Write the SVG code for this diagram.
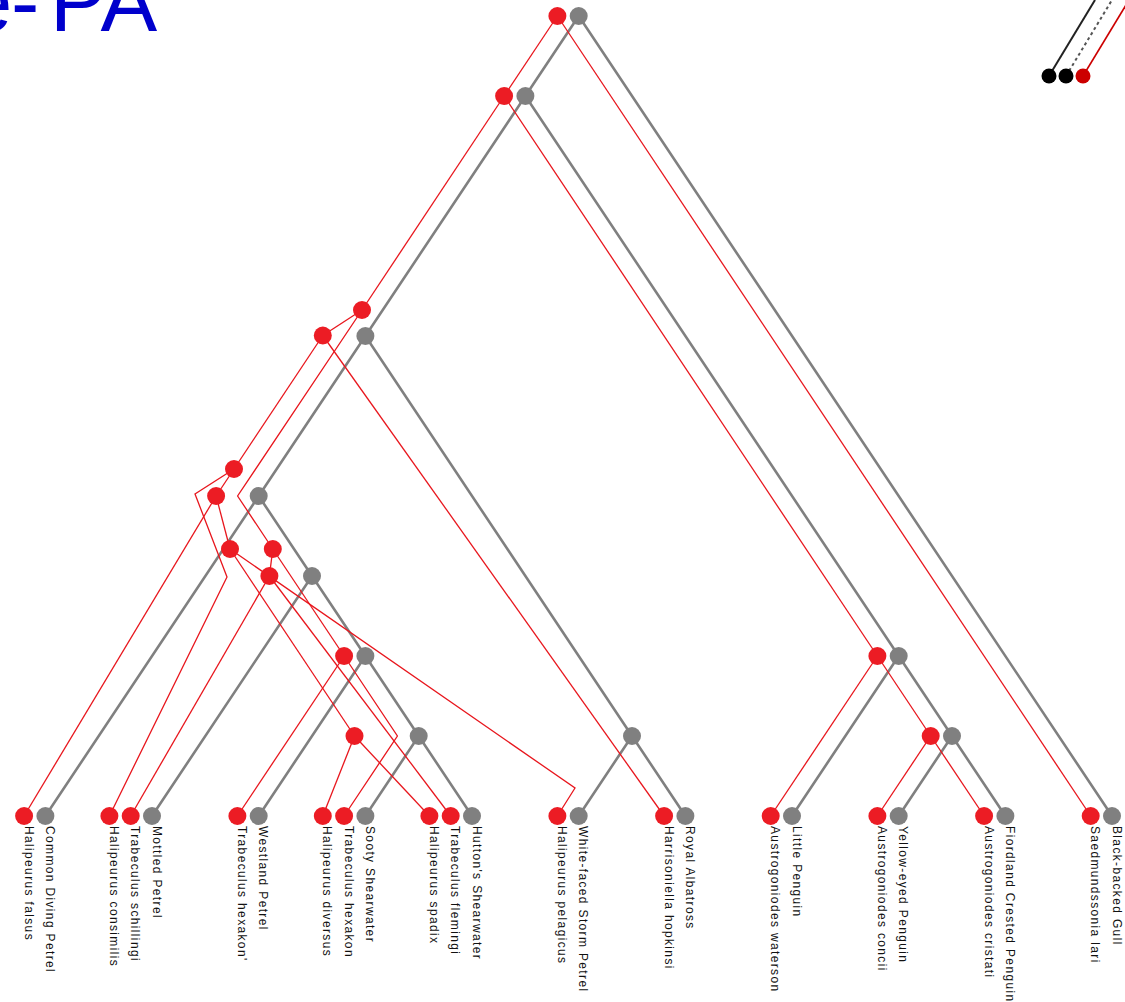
<svg xmlns="http://www.w3.org/2000/svg" width="1125" height="1002" viewBox="0 0 1125 1002">
  <style>
    .h { stroke: #808080; stroke-width: 2.6; fill: none; stroke-linecap: round; }
    .p { stroke: #e8161d; stroke-width: 1.3; fill: none; stroke-linejoin: miter; }
    .hn { fill: #808080; }
    .pn { fill: #ec1c24; }
    .lbl { font-family: "Liberation Sans", Arial, sans-serif; font-size: 12px; letter-spacing: 1.35px; fill: #111; }
    .title { font-family: "Liberation Sans", Arial, sans-serif; font-size: 85px; fill: #0000cc; }
  </style>

  <rect x="0" y="0" width="1125" height="1002" fill="#ffffff"/>

  <!-- title, running off the top and left edges -->
  <text class="title" y="31"><tspan x="-35">e</tspan><tspan x="11">-</tspan><tspan x="50">PA</tspan></text>

  <!-- legend: host edge, loss edge, parasite edge -->
  <g id="legend">
    <line x1="1049" y1="76" x2="1095" y2="0" stroke="#222" stroke-width="2"/>
    <line x1="1066" y1="76" x2="1112" y2="0" stroke="#555" stroke-width="2" stroke-dasharray="3,3"/>
    <line x1="1083" y1="76" x2="1129" y2="0" stroke="#cc0000" stroke-width="1.6"/>
    <circle cx="1049" cy="76" r="7.5" fill="#000"/>
    <circle cx="1066" cy="76" r="7.5" fill="#000"/>
    <circle cx="1083" cy="76" r="7.5" fill="#cc0000"/>
  </g>

  <g id="connectors">
    <!-- host tree -->
    <g id="host-edges">
      <line class="h" x1="578.7" y1="16" x2="525.4" y2="96"/>
      <line class="h" x1="578.7" y1="16" x2="1112" y2="816"/>
      <line class="h" x1="525.4" y1="96" x2="365.4" y2="336"/>
      <line class="h" x1="525.4" y1="96" x2="898.7" y2="656"/>
      <line class="h" x1="365.4" y1="336" x2="258.7" y2="496"/>
      <line class="h" x1="365.4" y1="336" x2="632" y2="736"/>
      <line class="h" x1="258.7" y1="496" x2="45.4" y2="816"/>
      <line class="h" x1="258.7" y1="496" x2="312" y2="576"/>
      <line class="h" x1="312" y1="576" x2="152" y2="816"/>
      <line class="h" x1="312" y1="576" x2="365.4" y2="656"/>
      <line class="h" x1="365.4" y1="656" x2="258.7" y2="816"/>
      <line class="h" x1="365.4" y1="656" x2="418.7" y2="736"/>
      <line class="h" x1="418.7" y1="736" x2="365.4" y2="816"/>
      <line class="h" x1="418.7" y1="736" x2="472" y2="816"/>
      <line class="h" x1="632" y1="736" x2="578.7" y2="816"/>
      <line class="h" x1="632" y1="736" x2="685.4" y2="816"/>
      <line class="h" x1="898.7" y1="656" x2="792" y2="816"/>
      <line class="h" x1="898.7" y1="656" x2="952" y2="736"/>
      <line class="h" x1="952" y1="736" x2="898.7" y2="816"/>
      <line class="h" x1="952" y1="736" x2="1005.4" y2="816"/>
    </g>
    <!-- parasite tree -->
    <g id="parasite-edges">
      <line class="p" x1="557.4" y1="16" x2="504.1" y2="96"/>
      <line class="p" x1="557.4" y1="16" x2="1090.7" y2="816"/>
      <line class="p" x1="504.1" y1="96" x2="362" y2="310"/>
      <line class="p" x1="504.1" y1="96" x2="877.4" y2="656"/>
      <line class="p" x1="877.4" y1="656" x2="770.7" y2="816"/>
      <line class="p" x1="877.4" y1="656" x2="930.7" y2="736"/>
      <line class="p" x1="930.7" y1="736" x2="877.4" y2="816"/>
      <line class="p" x1="930.7" y1="736" x2="984.1" y2="816"/>
      <line class="p" x1="362" y1="310" x2="322.8" y2="335.5"/>
      <polyline class="p" points="362,310 237.6,496 272.8,549"/>
      <line class="p" x1="322.8" y1="335.5" x2="234" y2="469"/>
      <line class="p" x1="322.8" y1="335.5" x2="664.1" y2="816"/>
      <line class="p" x1="234" y1="469" x2="216.1" y2="496"/>
      <polyline class="p" points="234,469 195,494 227,577 109.4,816"/>
      <line class="p" x1="216.1" y1="496" x2="24.1" y2="816"/>
      <line class="p" x1="216.1" y1="496" x2="230" y2="549"/>
      <line class="p" x1="230" y1="549" x2="354.5" y2="736"/>
      <polyline class="p" points="230,549 575,788 557.4,816"/>
      <line class="p" x1="272.8" y1="549" x2="269.4" y2="576"/>
      <line class="p" x1="269.4" y1="576" x2="130.7" y2="816"/>
      <line class="p" x1="269.4" y1="576" x2="450.7" y2="816"/>
      <line class="p" x1="272.8" y1="549" x2="344.1" y2="656"/>
      <line class="p" x1="344.1" y1="656" x2="237.4" y2="816"/>
      <polyline class="p" points="344.1,656 397.4,736 344.1,816"/>
      <line class="p" x1="354.5" y1="736" x2="322.8" y2="816"/>
      <line class="p" x1="354.5" y1="736" x2="429.4" y2="816"/>
    </g>
  </g>

  <!-- host nodes -->
  <g id="host-nodes">
    <g id="h-root"><circle class="hn" cx="578.7" cy="16" r="9"/></g>
    <g id="h-1"><circle class="hn" cx="525.4" cy="96" r="9"/></g>
    <g id="h-2"><circle class="hn" cx="365.4" cy="336" r="9"/></g>
    <g id="h-3"><circle class="hn" cx="258.7" cy="496" r="9"/></g>
    <g id="h-4"><circle class="hn" cx="312" cy="576" r="9"/></g>
    <g id="h-5"><circle class="hn" cx="365.4" cy="656" r="9"/></g>
    <g id="h-6"><circle class="hn" cx="418.7" cy="736" r="9"/></g>
    <g id="h-7"><circle class="hn" cx="632" cy="736" r="9"/></g>
    <g id="h-8"><circle class="hn" cx="898.7" cy="656" r="9"/></g>
    <g id="h-9"><circle class="hn" cx="952" cy="736" r="9"/></g>

    <g id="h-common-diving-petrel"><circle class="hn" cx="45.4" cy="816" r="9"/><text class="lbl" transform="translate(46,826) rotate(90)">Common Diving Petrel</text></g>
    <g id="h-mottled-petrel"><circle class="hn" cx="152" cy="816" r="9"/><text class="lbl" transform="translate(152.6,826) rotate(90)">Mottled Petrel</text></g>
    <g id="h-westland-petrel"><circle class="hn" cx="258.7" cy="816" r="9"/><text class="lbl" transform="translate(259.3,826) rotate(90)">Westland Petrel</text></g>
    <g id="h-sooty-shearwater"><circle class="hn" cx="365.4" cy="816" r="9"/><text class="lbl" transform="translate(366,826) rotate(90)">Sooty Shearwater</text></g>
    <g id="h-huttons-shearwater"><circle class="hn" cx="472" cy="816" r="9"/><text class="lbl" transform="translate(472.6,826) rotate(90)">Hutton's Shearwater</text></g>
    <g id="h-white-faced-storm-petrel"><circle class="hn" cx="578.7" cy="816" r="9"/><text class="lbl" transform="translate(579.3,826) rotate(90)">White-faced Storm Petrel</text></g>
    <g id="h-royal-albatross"><circle class="hn" cx="685.4" cy="816" r="9"/><text class="lbl" transform="translate(686,826) rotate(90)">Royal Albatross</text></g>
    <g id="h-little-penguin"><circle class="hn" cx="792" cy="816" r="9"/><text class="lbl" transform="translate(792.6,826) rotate(90)">Little Penguin</text></g>
    <g id="h-yellow-eyed-penguin"><circle class="hn" cx="898.7" cy="816" r="9"/><text class="lbl" transform="translate(899.3,826) rotate(90)">Yellow-eyed Penguin</text></g>
    <g id="h-fiordland-crested-penguin"><circle class="hn" cx="1005.4" cy="816" r="9"/><text class="lbl" transform="translate(1006,826) rotate(90)">Fiordland Crested Penguin</text></g>
    <g id="h-black-backed-gull"><circle class="hn" cx="1112" cy="816" r="9"/><text class="lbl" transform="translate(1112.6,826) rotate(90)">Black-backed Gull</text></g>
  </g>

  <!-- parasite nodes -->
  <g id="parasite-nodes">
    <g id="p-root"><circle class="pn" cx="557.4" cy="16" r="9"/></g>
    <g id="p-1"><circle class="pn" cx="504.1" cy="96" r="9"/></g>
    <g id="p-2"><circle class="pn" cx="362" cy="310" r="9"/></g>
    <g id="p-3"><circle class="pn" cx="322.8" cy="335.5" r="9"/></g>
    <g id="p-4"><circle class="pn" cx="234" cy="469" r="9"/></g>
    <g id="p-5"><circle class="pn" cx="216.1" cy="496" r="9"/></g>
    <g id="p-6"><circle class="pn" cx="230" cy="549" r="9"/></g>
    <g id="p-7"><circle class="pn" cx="272.8" cy="549" r="9"/></g>
    <g id="p-8"><circle class="pn" cx="269.4" cy="576" r="9"/></g>
    <g id="p-9"><circle class="pn" cx="344.1" cy="656" r="9"/></g>
    <g id="p-10"><circle class="pn" cx="354.5" cy="736" r="9"/></g>
    <g id="p-11"><circle class="pn" cx="877.4" cy="656" r="9"/></g>
    <g id="p-12"><circle class="pn" cx="930.7" cy="736" r="9"/></g>

    <g id="p-halipeurus-falsus"><circle class="pn" cx="24.1" cy="816" r="9"/><text class="lbl" transform="translate(24.7,826) rotate(90)">Halipeurus falsus</text></g>
    <g id="p-halipeurus-consimilis"><circle class="pn" cx="109.4" cy="816" r="9"/><text class="lbl" transform="translate(110,826) rotate(90)">Halipeurus consimilis</text></g>
    <g id="p-trabeculus-schillingi"><circle class="pn" cx="130.7" cy="816" r="9"/><text class="lbl" transform="translate(131.3,826) rotate(90)">Trabeculus schillingi</text></g>
    <g id="p-trabeculus-hexakon2"><circle class="pn" cx="237.4" cy="816" r="9"/><text class="lbl" transform="translate(238,826) rotate(90)">Trabeculus  hexakon'</text></g>
    <g id="p-halipeurus-diversus"><circle class="pn" cx="322.8" cy="816" r="9"/><text class="lbl" transform="translate(323.4,826) rotate(90)">Halipeurus diversus</text></g>
    <g id="p-trabeculus-hexakon"><circle class="pn" cx="344.1" cy="816" r="9"/><text class="lbl" transform="translate(344.7,826) rotate(90)">Trabeculus hexakon</text></g>
    <g id="p-halipeurus-spadix"><circle class="pn" cx="429.4" cy="816" r="9"/><text class="lbl" transform="translate(430,826) rotate(90)">Halipeurus spadix</text></g>
    <g id="p-trabeculus-flemingi"><circle class="pn" cx="450.7" cy="816" r="9"/><text class="lbl" transform="translate(451.3,826) rotate(90)">Trabeculus flemingi</text></g>
    <g id="p-halipeurus-pelagicus"><circle class="pn" cx="557.4" cy="816" r="9"/><text class="lbl" transform="translate(558,826) rotate(90)">Halipeurus pelagicus</text></g>
    <g id="p-harrisoniella-hopkinsi"><circle class="pn" cx="664.1" cy="816" r="9"/><text class="lbl" transform="translate(664.7,826) rotate(90)">Harrisoniella hopkinsi</text></g>
    <g id="p-austrogoniodes-waterson"><circle class="pn" cx="770.7" cy="816" r="9"/><text class="lbl" transform="translate(771.3,826) rotate(90)">Austrogoniodes waterson</text></g>
    <g id="p-austrogoniodes-concii"><circle class="pn" cx="877.4" cy="816" r="9"/><text class="lbl" transform="translate(878,826) rotate(90)">Austrogoniodes concii</text></g>
    <g id="p-austrogoniodes-cristati"><circle class="pn" cx="984.1" cy="816" r="9"/><text class="lbl" transform="translate(984.7,826) rotate(90)">Austrogoniodes cristati</text></g>
    <g id="p-saedmundssonia-lari"><circle class="pn" cx="1090.7" cy="816" r="9"/><text class="lbl" transform="translate(1091.3,826) rotate(90)">Saedmundssonia lari</text></g>
  </g>
</svg>
